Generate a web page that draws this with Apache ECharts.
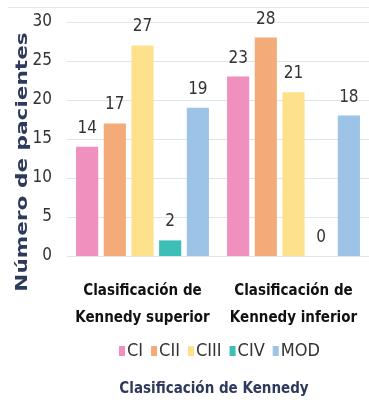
<!DOCTYPE html>
<html><head><meta charset="utf-8">
<script src="https://cdn.jsdelivr.net/npm/echarts@6/dist/echarts.min.js"></script>
<style>html,body{margin:0;padding:0;background:#fff}#c{width:369px;height:402px}</style>
</head><body><div id="c"></div>
<script>
var categories = ['Clasificación de\nKennedy superior', 'Clasificación de\nKennedy inferior'];
var seriesNames = ['CI', 'CII', 'CIII', 'CIV', 'MOD'];
var CI = [14, 23];
var CII = [17, 28];
var CIII = [27, 21];
var CIV = [2, 0];
var MOD = [19, 18];
var yTicks = [0, 5, 10, 15, 20, 25, 30];
var yTitle = 'Número de pacientes';
var xTitle = 'Clasificación de Kennedy';
var colors = ['#EF90BF', '#F3AC79', '#FEE18D', '#3DBFB8', '#9DC3E6'];
var values = [CI, CII, CIII, CIV, MOD];
var font = '"DejaVu Sans Condensed", "Liberation Sans", sans-serif';
var chart = echarts.init(document.getElementById('c'));
chart.setOption({
  animation: false,
  grid: {left: 67, right: 0, top: 22, bottom: 146, outerBoundsMode: 'none', containLabel: false},
  legend: {
    data: seriesNames, top: 337, left: 114, icon: 'rect', itemWidth: 6, itemHeight: 10, itemGap: 8,
    textStyle: {fontFamily: font, fontSize: 18, color: '#333', padding: [0, 0, 0, -3]}
  },
  graphic: [{
    type: 'text', x: 23, y: 162, rotation: Math.PI / 2, scaleX: 1.35,
    style: {text: yTitle, font: 'bold 16px "DejaVu Sans"', fill: '#2E3A5C', align: 'center', verticalAlign: 'middle'}
  }, {
    type: 'line', shape: {x1: 8, y1: 7.5, x2: 369, y2: 7.5},
    style: {stroke: '#E4E9EF', lineWidth: 1}
  }],
  xAxis: {
    type: 'category', data: categories,
    axisLine: {show: false}, axisTick: {show: false},
    axisLabel: {interval: 0, fontFamily: font, fontWeight: 'bold', fontSize: 15, color: '#111', lineHeight: 27, margin: 22},
    name: xTitle, nameLocation: 'middle', nameGap: 126,
    nameTextStyle: {fontFamily: font, fontWeight: 'bold', fontSize: 15, color: '#2E3A5C', padding: [0, 8, 0, 0]}
  },
  yAxis: {
    type: 'value', min: yTicks[0], max: yTicks[yTicks.length - 1], interval: 5,
    axisLabel: {fontFamily: font, fontSize: 17, color: '#333', margin: 15},
    splitLine: {lineStyle: {color: '#DCE4EC', width: 1}}
  },
  series: seriesNames.map(function (n, i) {
    return {
      name: n, type: 'bar', data: values[i], barGap: '25%', barCategoryGap: '12%',
      itemStyle: {color: colors[i]},
      label: {show: true, position: 'top', distance: 10, fontFamily: font, fontSize: 17, color: '#333'}
    };
  })
});
</script></body></html>
